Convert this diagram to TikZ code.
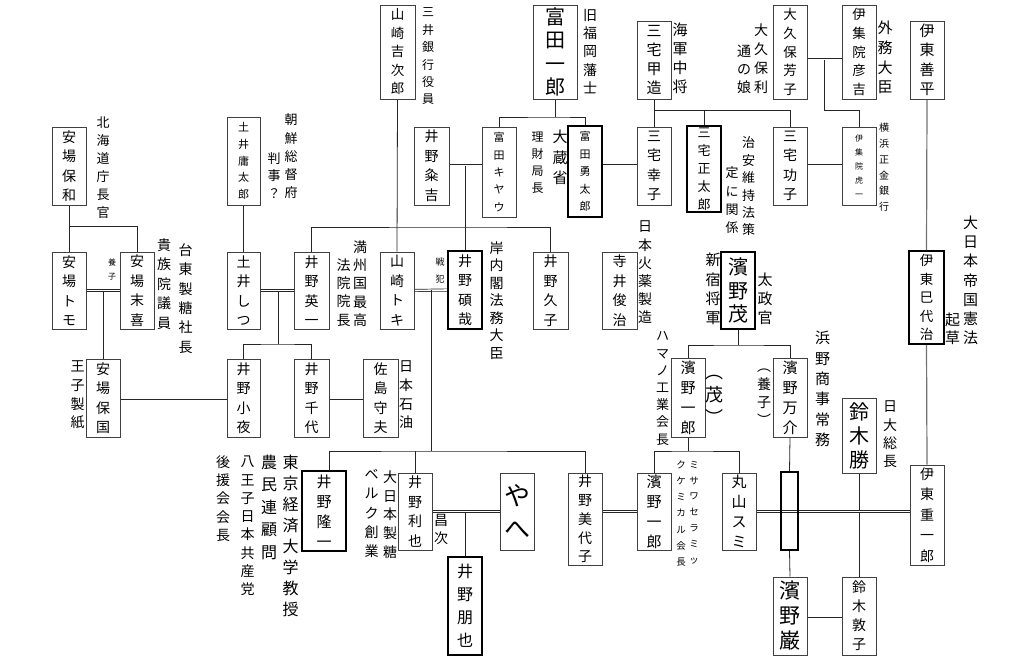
\documentclass[tikz,border=0pt]{standalone}
\usepackage{fontspec}
\newfontfamily\jp{Noto Sans CJK JP}
\makeatletter
\def\vstack#1{\vst@first#1\relax}
\def\vst@first#1{#1\vst@rest}
\def\vst@rest#1{\ifx#1\relax\expandafter\@gobble\else\expandafter\@firstofone\fi{\\#1\vst@rest}}
\makeatother
\newcommand\fs[2]{\jp\fontsize{#1}{#2}\selectfont}
\pgfdeclarelayer{bg}
\pgfsetlayers{bg,main}
\tikzset{
  bx/.style={draw=black!75, line width=0.8pt, inner sep=0pt, minimum width=34pt, minimum height=78pt, align=center, font=\fs{14}{19.5}},
  tb/.style={bx, draw=black, line width=2pt},
  lbl/.style={inner sep=0pt, align=center},
  ln/.style={draw=black!85, line width=0.8pt},
  dbl/.style={draw=black!85, line width=0.7pt, double=white, double distance=1.6pt},
  gln/.style={draw=black!55, line width=1.2pt},
}
\begin{document}
\begin{tikzpicture}[x=1pt,y=-1pt]
\begin{pgfonlayer}{bg}
\path[use as bounding box, fill=white] (0,0) rectangle (1024,660);
\end{pgfonlayer}
% ---- boxes
\node[bx, minimum width=35, minimum height=94, font=\fs{13.5}{18.5}] (yk) at (397.5,52) {\vstack{山崎吉次郎}};
\node[bx, minimum width=44, minimum height=94, font=\fs{20}{23.5}] (ti) at (555,52) {\vstack{富田一郎}};
\node[bx, font=\fs{15}{19}] (mk) at (654,60) {\vstack{三宅甲造}};
\node[bx, minimum height=94, font=\fs{13.5}{18.7}] (oy) at (790,52) {\vstack{大久保芳子}};
\node[bx, minimum height=94, font=\fs{13.5}{18.7}] (ih) at (859,52) {\vstack{伊集院彦吉}};
\node[bx, font=\fs{15}{19.5}] (iz) at (927,60) {\vstack{伊東善平}};
\node[bx] (yy) at (69,166) {\vstack{安場保和}};
\node[bx, minimum width=33, minimum height=88, font=\fs{11}{16.7}] (dy) at (243.5,161) {\vstack{土井庸太郎}};
\node[bx, minimum width=35] (ik) at (431.5,166) {\vstack{井野粂吉}};
\node[bx, minimum height=90, font=\fs{11}{17.3}] (tk) at (499,172) {\vstack{富田キヤウ}};
\node[tb, minimum height=91, font=\fs{11}{17.5}] (ty) at (585,171.5) {\vstack{富田勇太郎}};
\node[bx] (ms) at (654,166) {\vstack{三宅幸子}};
\node[tb, minimum height=86, font=\fs{13}{18}] (mst) at (704,169) {\vstack{三宅正太郎}};
\node[bx] (mi) at (790,166) {\vstack{三宅功子}};
\node[bx, font=\fs{8}{14}] (it) at (859,166) {\vstack{伊集院虎一}};
\node[bx, minimum height=77] (yt) at (69,290.5) {\vstack{安場トモ}};
\node[bx, minimum height=77] (ys) at (137,290.5) {\vstack{安場末喜}};
\node[bx, minimum width=33, minimum height=77] (ds) at (243.5,290.5) {\vstack{土井しつ}};
\node[bx, minimum width=35, minimum height=77] (ie) at (311.5,290.5) {\vstack{井野英一}};
\node[bx, minimum height=77] (yto) at (397,290.5) {\vstack{山崎トキ}};
\node[tb] (is) at (465,290) {\vstack{井野碩哉}};
\node[bx, minimum width=35, minimum height=77] (ih2) at (550.5,290.5) {\vstack{井野久子}};
\node[bx, minimum width=35, minimum height=77] (tt) at (619.5,290.5) {\vstack{寺井俊治}};
\node[tb, minimum height=77, font=\fs{20}{23.5}] (hs) at (738,290.5) {\vstack{濱野茂}};
\node[tb, minimum width=35, minimum height=93, font=\fs{13.5}{18.5}] (im) at (926.5,297.5) {\vstack{伊東巳代治}};
\node[bx] (yk2) at (103,398) {\vstack{安場保国}};
\node[bx, minimum width=33] (is2) at (243.5,398) {\vstack{井野小夜}};
\node[bx, minimum width=35] (ic) at (311.5,398) {\vstack{井野千代}};
\node[bx, minimum width=35] (sm) at (380.5,398) {\vstack{佐島守夫}};
\node[bx, minimum height=79, font=\fs{15}{20}] (hi1) at (688,397.5) {\vstack{濱野一郎}};
\node[bx, minimum height=79, font=\fs{15}{20}] (hm) at (790,397.5) {\vstack{濱野万介}};
\node[bx, minimum height=75, font=\fs{20}{24}] (sk) at (859,435.5) {\vstack{鈴木勝}};
\node[tb, minimum width=44, minimum height=80, font=\fs{15}{20}] (ir) at (324,511) {\vstack{井野隆一}};
\node[bx, minimum height=77] (it2) at (415,511.5) {\vstack{井野利也}};
\node[bx, minimum height=77, font=\fs{26}{33}] (ya) at (517,511.5) {\vstack{やへ}};
\node[bx, minimum height=92, font=\fs{14}{18.8}] (imy) at (585,519) {\vstack{井野美代子}};
\node[bx, minimum height=77, font=\fs{15}{20}] (hi2) at (654,511.5) {\vstack{濱野一郎}};
\node[bx, minimum height=77, font=\fs{15}{20}] (mr) at (739,511.5) {\vstack{丸山スミ}};
\node[tb, minimum width=17] (eb) at (789.5,511) {};
\node[bx, minimum height=100, font=\fs{14}{20.5}] (ij) at (927,515) {\vstack{伊東重一郎}};
\node[tb, minimum height=98, font=\fs{16}{23}] (io) at (465,606) {\vstack{井野朋也}};
\node[bx, font=\fs{21}{25}] (hg) at (790,616) {\vstack{濱野巌}};
\node[bx, font=\fs{14}{19}] (sa) at (859,616) {\vstack{鈴木敦子}};
% ---- labels
\node[lbl, font=\fs{12}{17.4}] (l1) at (428,56.5) {\vstack{三井銀行役員}};
\node[lbl, font=\fs{14}{18.25}] (l2) at (590,51.5) {\vstack{旧福岡藩士}};
\node[lbl, font=\fs{15}{19}] (l3) at (680,58.5) {\vstack{海軍中将}};
\node[lbl, font=\fs{14}{19}] (l4) at (761,58.5) {\vstack{大久保利}};
\node[lbl, font=\fs{14}{18}] (l5) at (744,69) {\vstack{通の娘}};
\node[lbl, font=\fs{15}{19.7}] (l6) at (885,57.5) {\vstack{外務大臣}};
\node[lbl, font=\fs{13}{18}] (l7) at (103,168) {\vstack{北海道庁長官}};
\node[lbl, font=\fs{13}{18.25}] (l8) at (291,156.5) {\vstack{朝鮮総督府}};
\node[lbl, font=\fs{13}{17.5}] (l9) at (274,175.5) {\vstack{判事？}};
\node[lbl, font=\fs{12}{17}] (l10) at (537.5,162.5) {\vstack{理財局長}};
\node[lbl, font=\fs{15}{20.5}] (l11) at (560,157.5) {\vstack{大蔵省}};
\node[lbl, font=\fs{13}{17.4}] (l12) at (748.5,186.5) {\vstack{治安維持法策}};
\node[lbl, font=\fs{13}{18.3}] (l13) at (732,200.5) {\vstack{定に関係}};
\node[lbl, font=\fs{10}{15.8}] (l14) at (884,167.5) {\vstack{横浜正金銀行}};
\node[lbl, font=\fs{8}{14}] (l15) at (112,269) {\vstack{養子}};
\node[lbl, font=\fs{14}{19.5}] (l16) at (164,284) {\vstack{貴族院議員}};
\node[lbl, font=\fs{14}{19.4}] (l17) at (185.5,298.5) {\vstack{台東製糖社長}};
\node[lbl, font=\fs{14}{18.25}] (l18) at (360,283.5) {\vstack{満州国最高}};
\node[lbl, font=\fs{14}{18.3}] (l19) at (343.5,292.5) {\vstack{法院院長}};
\node[lbl, font=\fs{9}{17}] (l20) at (440,271) {\vstack{戦犯}};
\node[lbl, font=\fs{14}{17.5}] (l21) at (496.5,300.5) {\vstack{岸内閣法務大臣}};
\node[lbl, font=\fs{14}{18.2}] (l22) at (645,272.5) {\vstack{日本火薬製造}};
\node[lbl, font=\fs{15}{19.3}] (l23) at (713,289) {\vstack{新宿将軍}};
\node[lbl, font=\fs{15}{19}] (l24) at (765,299) {\vstack{太政官}};
\node[lbl, font=\fs{15}{19.2}] (l25) at (970.5,280.5) {\vstack{大日本帝国憲法}};
\node[lbl, font=\fs{15}{18}] (l26) at (952.5,329) {\vstack{起草}};
\node[lbl, font=\fs{14}{18.7}] (l27) at (77.5,395) {\vstack{王子製紙}};
\node[lbl, font=\fs{14}{18.7}] (l28) at (406,395) {\vstack{日本石油}};
\node[lbl, font=\fs{13}{17.2}] (l29) at (662.5,388.5) {\vstack{ハマノ工業会長}};
\node[lbl, font=\fs{18}{23}] (l30) at (714.5,400) {\vstack{︵茂︶}};
\node[lbl, font=\fs{14}{18}] (l31) at (764,397) {\vstack{︵養子︶}};
\node[lbl, font=\fs{15}{20.4}] (l32) at (822.5,389) {\vstack{浜野商事常務}};
\node[lbl, font=\fs{14}{18.3}] (l33) at (890,434.5) {\vstack{日大総長}};
\node[lbl, font=\fs{14}{18.3}] (l34) at (223,498.5) {\vstack{後援会会長}};
\node[lbl, font=\fs{14}{18.3}] (l35) at (247.5,526) {\vstack{八王子日本共産党}};
\node[lbl, font=\fs{16}{22.5}] (l36) at (269,507) {\vstack{農民連顧問}};
\node[lbl, font=\fs{16}{21.1}] (l37) at (290.5,536) {\vstack{東京経済大学教授}};
\node[lbl, font=\fs{14}{19.25}] (l38) at (371.5,513.5) {\vstack{ベルク創業}};
\node[lbl, font=\fs{14}{18.75}] (l39) at (390,514.5) {\vstack{大日本製糖}};
\node[lbl, font=\fs{14}{18}] (l40) at (441,529) {\vstack{昌次}};
\node[lbl, font=\fs{9.5}{15.8}] (l41) at (694,512.5) {\vstack{ミサワセラミッ}};
\node[lbl, font=\fs{9.5}{16.2}] (l42) at (681,513.5) {\vstack{クケミカル会長}};
% ---- junctions
\coordinate (ja) at (69,226);
\coordinate (jb) at (278,344);
\coordinate (jc) at (465,227);
\coordinate (jd) at (555,117);
\coordinate (je) at (654,110);
\coordinate (jf) at (824,60);
\coordinate (jg) at (431,451);
\coordinate (jh) at (329,451);
\coordinate (ji) at (738,345);
\coordinate (jj) at (688,451);
% ---- connectors
\begin{pgfonlayer}{bg}
\draw[ln] (yy.south) -- (yt.north);
\draw[ln] (ja) -| (ys.north);
\draw[dbl] (yt.east) -- (ys.west);
\draw[ln] (yk2.north |- yt.east) -- (yk2.north);
\draw[dbl] (yk2.east) -- (is2.west);
\draw[ln] (dy.south) -- (ds.north);
\draw[dbl] (ds.east) -- (ie.west);
\draw[ln] (jb |- ds.east) -- (jb);
\draw[ln] (is2.north) |- (jb) -| (ic.north);
\draw[dbl] (ic.east) -- (sm.west);
\draw[dbl] (ik.east) -- (tk.west |- ik.east);
\draw[ln] (is.north |- ik.east) -- (is.north);
\draw[ln] (ie.north) |- (jc) -| (ih2.north);
\draw[ln] (yk.south) -- (yto.north);
\draw[ln] (ti.south) -- (jd);
\draw[ln] (tk.north) |- (jd) -| (ty.north);
\draw[dbl] (ty.east |- ms.west) -- (ms.west);
\draw[ln] (mk.south) -- (ms.north);
\draw[ln] (je) -| (mi.north);
\draw[ln] (mst.north |- je) -- (mst.north);
\draw[dbl] (oy.east |- jf) -- (ih.west |- jf);
\draw[ln] (jf) |- (it.north |- je) -- (it.north);
\draw[dbl] (mi.east) -- (it.west);
\draw[dbl] (yto.east) -- (is.west);
\draw[ln] (jg |- is.west) -- (jg);
\draw[ln] (jh |- ir.north) |- (jg) -| (imy.north);
\draw[ln] (it2.north |- jg) -- (it2.north);
\draw[dbl] (it2.east) -- (ya.west);
\draw[ln] (io.north |- it2.east) -- (io.north);
\draw[dbl] (imy.east |- hi2.west) -- (hi2.west);
\draw[ln] (hs.south) -- (ji);
\draw[ln] (hi1.north) |- (ji) -| (hm.north);
\draw[ln] (hi1.south) -- (jj);
\draw[ln] (hi2.north) |- (jj) -| (mr.north);
\draw[ln] (hm.south) -- (eb.north);
\draw[ln] (eb.south) -- (hg.north);
\draw[ln] (sk.south) -- (sa.north);
\draw[dbl] (mr.east) -- (ij.west |- mr.east);
\draw[dbl] (hg.east) -- (sa.west);
\draw[gln] (iz.south) -- (im.north);
\draw[gln] (im.south) -- (ij.north);
\end{pgfonlayer}
\end{tikzpicture}
\end{document}
